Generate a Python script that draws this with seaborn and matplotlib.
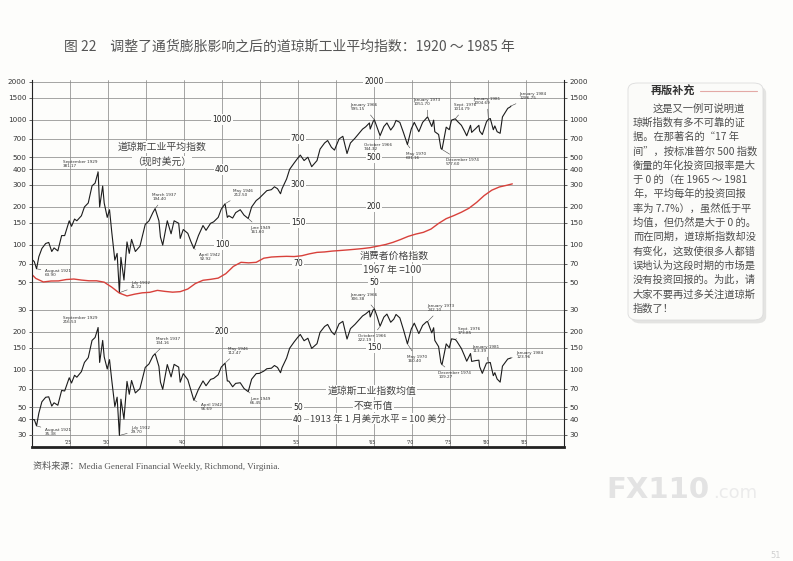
import matplotlib
matplotlib.use("Agg")
import matplotlib.pyplot as plt
import matplotlib.ticker as mticker
from matplotlib.patches import FancyBboxPatch
import pandas as pd
import seaborn as sns

# 道琼斯工业平均指数（现时美元），按时间读图估计
years = [1921.0, 1921.3, 1921.6, 1921.9, 1922.3, 1922.8, 1923.2, 1923.6, 1923.9, 1924.4, 1924.9, 1925.3,
         1925.9, 1926.2, 1926.6, 1926.9, 1927.5, 1927.9, 1928.4, 1928.9, 1929.3, 1929.7, 1929.9,
         1930.3, 1930.5, 1930.9, 1931.2, 1931.5, 1931.9, 1932.2, 1932.5, 1932.7, 1933.1, 1933.5, 1933.8,
         1934.1, 1934.6, 1935.2, 1935.9, 1936.4, 1936.9, 1937.2, 1937.7, 1937.9, 1938.2, 1938.8, 1939.3, 1939.7,
         1940.3, 1940.5, 1940.9, 1941.5, 1941.9, 1942.3, 1942.9, 1943.5, 1943.9, 1944.5, 1944.9, 1945.5,
         1945.9, 1946.4, 1946.7, 1946.9, 1947.4, 1947.8, 1948.4, 1948.9, 1949.45, 1949.9,
         1950.5, 1950.9, 1951.5, 1951.9, 1952.5, 1952.9, 1953.3, 1953.7, 1953.9, 1954.5, 1954.9, 1955.5,
         1955.9, 1956.3, 1956.8, 1957.3, 1957.8, 1958.5, 1958.9, 1959.5, 1959.9,
         1960.4, 1960.8, 1961.4, 1961.9, 1962.45, 1962.9, 1963.5, 1963.9, 1964.5, 1964.9, 1965.4, 1965.5,
         1965.9, 1966.05, 1966.4, 1966.8, 1967.3, 1967.7, 1968.2, 1968.6, 1968.9, 1969.4, 1969.9,
         1970.4, 1970.9, 1971.3, 1971.9, 1972.4, 1972.9, 1973.05, 1973.6, 1973.85, 1974.0, 1974.5, 1974.8,
         1974.95, 1975.5, 1975.9, 1976.2, 1976.7, 1976.9, 1977.5, 1977.9, 1978.2, 1978.7, 1978.85, 1979.4,
         1979.8, 1979.9,
         1980.25, 1980.8, 1981.05, 1981.3, 1981.7, 1981.9, 1982.2, 1982.6, 1982.9, 1983.3, 1983.6, 1983.9, 1984.05]
djia_current = [76, 73, 64, 80, 93, 102, 104, 88, 94, 89, 118, 118,
                155, 140, 160, 155, 170, 200, 215, 295, 310, 381, 200,
                294, 215, 165, 190, 125, 75, 85, 41.2, 79, 52, 105, 85,
                110, 88, 97, 145, 155, 180, 194, 155, 115, 99, 155, 122, 155,
                148, 112, 132, 123, 106, 93, 118, 142, 130, 148, 152, 165,
                192, 212, 165, 170, 163, 180, 190, 172, 161.6, 200,
                225, 235, 255, 270, 275, 290, 280, 255, 280, 335, 400, 450,
                485, 520, 470, 500, 420, 470, 580, 650, 680,
                600, 570, 700, 735, 535, 650, 710, 760, 840, 875, 940, 840,
                970, 995, 870, 744, 880, 940, 825, 890, 985, 950, 780,
                631, 840, 950, 800, 950, 1030, 1052, 880, 990, 800, 760, 590,
                577, 870, 830, 990, 1015, 980, 900, 810, 742, 900, 790, 850,
                900, 810,
                759, 960, 1005, 1020, 830, 890, 800, 777, 1050, 1150, 1230, 1260, 1287]
# 不变币值（1913 年 1 月美元 = 100 美分）
djia_constant = [39.6, 39.8, 35.4, 44.8, 55.2, 60.0, 60.5, 51.0, 54.2, 51.8, 68.0, 67.4,
                 86.0, 78.0, 90.0, 86.8, 96.2, 114, 124.5, 171, 180.5, 216.5, 114,
                 171, 126.4, 101, 120, 81.6, 50.6, 60.1, 29.7, 57.9, 40.1, 80.4, 63.4,
                 81.7, 65, 70.3, 104, 111, 128, 134, 105.9, 79.4, 69.5, 109.6, 87.3, 110,
                 104.6, 79.2, 92.7, 83, 68.4, 56.7, 69.4, 81.1, 74.2, 83.4, 84.9, 90.8,
                 104.6, 112.5, 81, 80.8, 72.8, 77.5, 78.4, 70.5, 66.5, 83.7,
                 92.8, 93.1, 97.1, 101.5, 102.5, 107.7, 104, 94.3, 103.6, 123.6, 148, 166.6,
                 179, 191, 170, 178, 147.6, 161, 198.5, 221, 229.5,
                 201, 190, 232, 243, 175.4, 212.4, 230, 244.8, 268.6, 278.5, 295.4, 263.4,
                 301.7, 306.4, 267, 222.2, 262.7, 277.8, 239, 253, 276, 258.9, 206,
                 160.4, 210.5, 235, 194, 225.7, 241, 242.1, 196.5, 216, 171, 152.5, 113.8,
                 109.3, 160.5, 149.4, 176, 173.9, 168.2, 147.3, 129.3, 116.6, 134.3, 116.2, 118,
                 118.8, 105.5,
                 93.2, 112.7, 113.4, 113.9, 89.3, 94.4, 84, 79.3, 106.4, 114.9, 121.4, 123.1, 124.0]

# 消费者价格指数 1967 = 100
cpi_years = [1921.0, 1921.5, 1922.5, 1923.5, 1924.5, 1925.5, 1926.5, 1927.5, 1928.5, 1929.5,
             1930.5, 1931.5, 1932.5, 1933.5, 1934.5, 1935.5, 1936.5, 1937.5, 1938.5, 1939.5,
             1940.5, 1941.5, 1942.5, 1943.5, 1944.5, 1945.5, 1946.5, 1947.5, 1948.5, 1949.5,
             1950.5, 1951.5, 1952.5, 1953.5, 1954.5, 1955.5, 1956.5, 1957.5, 1958.5, 1959.5,
             1960.5, 1961.5, 1962.5, 1963.5, 1964.5, 1965.5, 1966.5, 1967.5, 1968.5, 1969.5,
             1970.5, 1971.5, 1972.5, 1973.5, 1974.5, 1975.5, 1976.5, 1977.5, 1978.5, 1979.5,
             1980.5, 1981.5, 1982.5, 1983.5, 1984.2]
cpi = [57.5, 53.6, 50.2, 51.1, 51.2, 52.5, 53.0, 52.0, 51.3, 51.3,
       50.0, 45.6, 40.9, 38.8, 40.1, 41.1, 41.5, 43.0, 42.2, 41.6,
       42.0, 44.1, 48.8, 51.8, 52.7, 53.9, 58.5, 66.9, 72.1, 71.4,
       72.1, 77.8, 79.5, 80.1, 80.5, 80.2, 81.4, 84.3, 86.6, 87.3,
       88.7, 89.6, 90.6, 91.7, 92.9, 94.5, 97.2, 100.0, 104.2, 109.8,
       116.3, 121.3, 125.3, 133.1, 147.7, 161.2, 170.5, 181.5, 195.4, 217.4,
       246.8, 272.4, 289.1, 298.4, 306]

upper_ticks = [30, 50, 70, 100, 150, 200, 300, 400, 500, 700, 1000, 1500, 2000]
lower_ticks = [30, 40, 50, 70, 100, 150, 200]
year_labels = ["'25", "'30", "'40", "'55", "'65", "'70", "'75", "'80", "'85"]
year_label_pos = [1925, 1930, 1940, 1955, 1965, 1970, 1975, 1980, 1985]

# (文字, 点年份, 点数值, 文字年份, 文字数值)
upper_notes = [
    ("September 1929\n381.17", 1929.7, 381, 1927.3, 442),
    ("August 1921\n63.90", 1921.6, 64, 1924.4, 59.3),
    ("July 1932\n41.22", 1932.5, 41.2, 1935.3, 47.5),
    ("March 1937\n194.40", 1937.2, 194, 1938.4, 240),
    ("April 1942\n92.92", 1942.3, 93, 1944.4, 79.6),
    ("May 1946\n212.50", 1946.4, 212, 1948.8, 259),
    ("June 1949\n161.60", 1949.45, 161.6, 1951.1, 131),
    ("January 1966\n995.15", 1966.05, 995, 1964.7, 1262),
    ("October 1966\n744.32", 1966.8, 744, 1966.5, 604),
    ("May 1970\n631.16", 1970.4, 631, 1971.5, 512),
    ("January 1973\n1051.70", 1973.05, 1052, 1973.0, 1384),
    ("December 1974\n577.60", 1974.95, 577, 1977.6, 458),
    ("Sept. 1976\n1014.79", 1976.7, 1015, 1978.0, 1262),
    ("January 1981\n1004.69", 1981.05, 1005, 1980.9, 1409),
    ("January 1984\n1286.75", 1984.05, 1287, 1986.9, 1545),
]
lower_notes = [
    ("September 1929\n216.53", 1929.7, 216.5, 1927.3, 249),
    ("August 1921\n35.38", 1921.6, 35.4, 1924.4, 31.7),
    ("July 1932\n29.70", 1932.5, 29.7, 1935.3, 32.9),
    ("March 1937\n134.16", 1937.2, 134, 1938.9, 169.5),
    ("April 1942\n56.69", 1942.3, 56.7, 1944.6, 50.2),
    ("May 1946\n112.47", 1946.4, 112.5, 1948.1, 141),
    ("June 1949\n66.45", 1949.45, 66.5, 1951.0, 56.1),
    ("January 1966\n306.38", 1966.05, 306, 1964.7, 381),
    ("October 1966\n222.19", 1966.8, 222, 1965.7, 179),
    ("May 1970\n160.40", 1970.4, 160.4, 1971.7, 121.6),
    ("January 1973\n242.10", 1973.05, 242, 1974.8, 311),
    ("December 1974\n109.27", 1974.95, 109.3, 1976.6, 90.6),
    ("Sept. 1976\n173.85", 1976.7, 174, 1978.5, 204),
    ("January 1981\n113.39", 1981.05, 113.4, 1980.7, 146),
    ("January 1984\n123.96", 1984.05, 124, 1986.5, 131),
]

upper_inner = [(1946, 1000), (1946, 400), (1946, 100), (1956, 700), (1956, 300), (1956, 150),
               (1956, 70), (1966, 2000), (1966, 500), (1966, 200), (1966, 50)]
lower_inner = [(1946, 200), (1956, 50), (1956, 40), (1966, 150)]

sidebar_lines = [
    "这是又一例可说明道",
    "琼斯指数有多不可靠的证",
    "据。在那著名的“17 年",
    "间”，按标准普尔 500 指数",
    "衡量的年化投资回报率是大",
    "于 0 的（在 1965 ～ 1981",
    "年，平均每年的投资回报",
    "率为 7.7%），虽然低于平",
    "均值，但仍然是大于 0 的。",
    "而在同期，道琼斯指数却没",
    "有变化，这致使很多人都错",
    "误地认为这段时期的市场是",
    "没有投资回报的。为此，请",
    "大家不要再过多关注道琼斯",
    "指数了！",
]

paper = "#fdfdfb"
grid_c = "#8c8c8c"

sns.set_style("white")
plt.rcParams["font.family"] = ["DejaVu Sans", "Noto Sans CJK SC"]
cjk = ["Noto Sans CJK SC", "DejaVu Sans"]

df = pd.DataFrame({"year": years, "current": djia_current, "constant": djia_constant})
cpi_df = pd.DataFrame({"year": cpi_years, "cpi": cpi})

W, H = 793, 561
fig = plt.figure(figsize=(W / 100, H / 100), dpi=100, facecolor=paper)
ax = fig.add_axes([32 / W, 1 - 447 / H, 532 / W, 367 / H])
ax.set_facecolor(paper)
ax2 = ax.twinx()

sns.lineplot(data=df, x="year", y="current", ax=ax, color="#1c1c1c", linewidth=0.8, estimator=None)
sns.lineplot(data=cpi_df, x="year", y="cpi", ax=ax, color="#d8413b", linewidth=1.0, estimator=None)
sns.lineplot(data=df, x="year", y="constant", ax=ax2, color="#1c1c1c", linewidth=0.8, estimator=None)

# 上下两段共用一条对数轴，下段刻度值是上段的 10 倍
ax.set_yscale("log")
ax2.set_yscale("log")
ax.set_ylim(2.40, 2074)
ax2.set_ylim(24.0, 20740)
ax.set_xlim(1921, 1991)

for a, ticks in ((ax, upper_ticks), (ax2, lower_ticks)):
    a.yaxis.set_major_locator(mticker.FixedLocator(ticks))
    a.yaxis.set_major_formatter(mticker.FixedFormatter([str(t) for t in ticks]))
    a.yaxis.set_minor_locator(mticker.NullLocator())
    a.yaxis.set_ticks_position("both")
    a.tick_params(axis="y", labelleft=True, labelright=True, labelsize=5.2, labelcolor="#333",
                  length=2.5, width=0.6, pad=1.5, direction="out", color="#444")
    a.grid(True, axis="y", color=grid_c, linewidth=0.55)
    a.set_ylabel("")
    a.set_xlabel("")

ax.set_xticks(range(1926, 1991, 5))
ax.set_xticklabels([])
ax.xaxis.set_minor_locator(mticker.MultipleLocator(1))
ax.tick_params(axis="x", which="major", direction="in", length=5, width=0.7, color="#333")
ax.tick_params(axis="x", which="minor", direction="in", length=3.5, width=0.6, color="#333")
ax.grid(True, axis="x", which="major", color=grid_c, linewidth=0.55)

for s in ax2.spines.values():
    s.set_visible(False)
ax.spines["top"].set_visible(False)
ax.spines["left"].set_linewidth(0.8)
ax.spines["right"].set_linewidth(0.8)
ax.spines["bottom"].set_linewidth(2.0)
for s in ax.spines.values():
    s.set_color("#222")

for lab, yr in zip(year_labels, year_label_pos):
    ax.text(yr + 0.7, 2.62, lab, fontsize=3.3, ha="center", va="center", color="#333")

box = dict(facecolor=paper, edgecolor="none", pad=0.6)
for yr, v in upper_inner:
    ax.text(yr, v, str(v), fontsize=5.5, ha="center", va="center", color="#222", bbox=box)
for yr, v in lower_inner:
    ax2.text(yr, v, str(v), fontsize=5.5, ha="center", va="center", color="#222", bbox=box)

for a, notes in ((ax, upper_notes), (ax2, lower_notes)):
    for txt, px, pv, tx, tv in notes:
        a.annotate(txt, xy=(px, pv), xytext=(tx, tv), fontsize=3.0, ha="center", va="center",
                   multialignment="left", color="#333", linespacing=1.1,
                   arrowprops=dict(arrowstyle="-", lw=0.4, color="#444", shrinkA=0.5, shrinkB=0.5))

lbl = dict(fontsize=7.1, color="#444", ha="center", va="center", family=cjk,
           bbox=dict(facecolor=paper, edgecolor="none", pad=0.6))
ax.text(1938.1, 604, "道琼斯工业平均指数", **lbl)
ax.text(1938.1, 458, "（现时美元）", **lbl)
ax.text(1968.7, 81.1, "消费者价格指数", **lbl)
ax.text(1968.4, 62.7, "1967 年 =100", **lbl)
ax2.text(1965.7, 67.5, "道琼斯工业指数均值", **lbl)
ax2.text(1965.9, 51.2, "不变币值", **lbl)
ax2.text(1966.5, 40.3, "1913 年 1 月美元水平 = 100 美分", **dict(lbl, fontsize=6.8))

fig.text(289.5 / W, 1 - 47 / H, "图 22　调整了通货膨胀影响之后的道琼斯工业平均指数：1920 ～ 1985 年",
         fontsize=10, color="#555", ha="center", va="center", family=cjk)
fig.text(33 / W, 1 - 466 / H, "资料来源：Media General Financial Weekly, Richmond, Virginia.",
         fontsize=6.6, color="#555", ha="left", va="center",
         family=["Liberation Serif", "Noto Sans CJK SC"])

# 右侧"再版补充"框
bx, by, bw, bh = 628 / W, 1 - 320 / H, 135 / W, 237 / H
fig.add_artist(FancyBboxPatch((bx + 0.004, by - 0.006), bw, bh, boxstyle="round,pad=0,rounding_size=0.012",
                              transform=fig.transFigure, facecolor="#e4e4e2", edgecolor="none"))
fig.add_artist(FancyBboxPatch((bx, by), bw, bh, boxstyle="round,pad=0,rounding_size=0.012",
                              transform=fig.transFigure, facecolor="#fbfbf9", edgecolor="#dcdcdc", lw=0.6))
fig.text(673 / W, 1 - 91 / H, "再版补充", fontsize=8.0, fontweight="bold", color="#333",
         ha="center", va="center", family=cjk)
fig.add_artist(plt.Line2D([700 / W, 757 / W], [1 - 91 / H, 1 - 91 / H], transform=fig.transFigure,
                          color="#e3a9a6", lw=0.8))
for i, line in enumerate(sidebar_lines):
    x0 = 653 if i == 0 else 633
    fig.text(x0 / W, 1 - (108.3 + i * 14.3) / H, line, fontsize=7.4, color="#4d4d4d",
             ha="left", va="center", family=cjk)

fig.text(606 / W, 1 - 490 / H, "FX110", fontsize=21, fontweight="bold", color="#e3e3e3",
         ha="left", va="center")
fig.text(713 / W, 1 - 493 / H, ".com", fontsize=13, color="#ebebeb", ha="left", va="center")
fig.text(770 / W, 1 - 556 / H, "51", fontsize=6, color="#cfcfcf", ha="left", va="center")

fig.savefig("out.png", dpi=100, facecolor=paper)
